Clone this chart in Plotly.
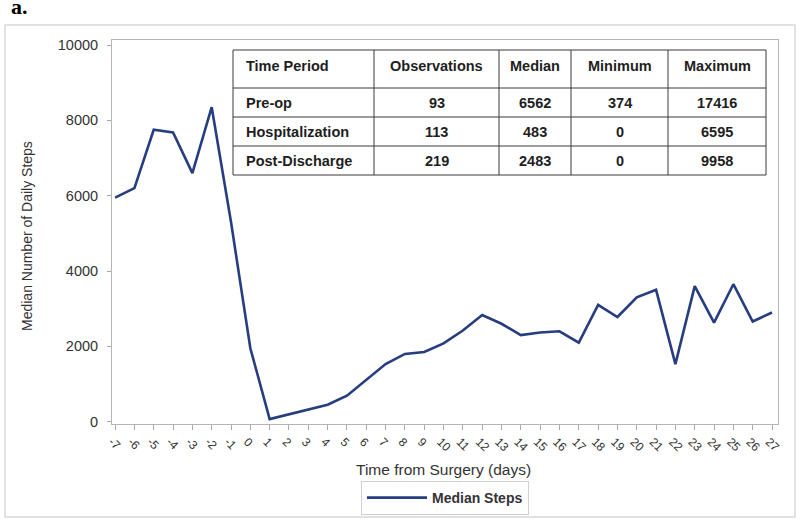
import plotly.graph_objects as go

# ---- data ----
days = list(range(-7, 28))
median_steps = [5950, 6200, 7750, 7680, 6600, 8350, 5300, 1950, 70, 200,
                320, 450, 690, 1100, 1530, 1800, 1850, 2080, 2420, 2830,
                2600, 2300, 2370, 2400, 2100, 3100, 2780, 3300, 3500, 1530,
                3600, 2630, 3650, 2660, 2900]
x_tick_labels = [str(d) for d in days]
y_tick_vals = [0, 2000, 4000, 6000, 8000, 10000]
y_tick_labels = ["0", "2000", "4000", "6000", "8000", "10000"]

table_header = ["Time Period", "Observations", "Median", "Minimum", "Maximum"]
periods = ["Pre-op", "Hospitalization", "Post-Discharge"]
observations = [93, 113, 219]
medians = [6562, 483, 2483]
minimums = [374, 0, 0]
maximums = [17416, 6595, 9958]

W, H = 800, 522
FONT = "Liberation Sans, Arial, sans-serif"
TXT = "#333333"


def px_x(p):
    return p / W


def px_y(p):
    return 1 - p / H


fig = go.Figure()

fig.add_trace(go.Scatter(
    x=days, y=median_steps, mode="lines", name="Median Steps",
    line=dict(color="#263d7f", width=2.6),
))

# ---- summary table (layout in pixels, content from the data lists) ----
col_widths = [141, 125, 72, 97, 98]
row_heights = [38, 29, 29, 29]
tbl_left, tbl_top = 233, 50
col_edges = [tbl_left]
for w in col_widths:
    col_edges.append(col_edges[-1] + w)
row_edges = [tbl_top]
for h in row_heights:
    row_edges.append(row_edges[-1] + h)

table_rows = [table_header]
for i in range(len(periods)):
    table_rows.append([periods[i], str(observations[i]), str(medians[i]),
                       str(minimums[i]), str(maximums[i])])

line_style = dict(color="#3a3a3a", width=1)
fig.add_shape(type="rect", xref="paper", yref="paper",
              x0=px_x(col_edges[0]), x1=px_x(col_edges[-1]),
              y0=px_y(row_edges[-1]), y1=px_y(row_edges[0]),
              line=line_style, fillcolor="white", layer="above")
for cx in col_edges[1:-1]:
    fig.add_shape(type="line", xref="paper", yref="paper",
                  x0=px_x(cx), x1=px_x(cx),
                  y0=px_y(row_edges[-1]), y1=px_y(row_edges[0]),
                  line=line_style)
for ry in row_edges[1:-1]:
    fig.add_shape(type="line", xref="paper", yref="paper",
                  x0=px_x(col_edges[0]), x1=px_x(col_edges[-1]),
                  y0=px_y(ry), y1=px_y(ry), line=line_style)

for r, row in enumerate(table_rows):
    yc = (row_edges[r] + row_edges[r + 1]) / 2 - (3 if r == 0 else 0)
    for c, val in enumerate(row):
        if c == 0:
            xpos, xa = col_edges[0] + 11, "left"
        else:
            xpos, xa = (col_edges[c] + col_edges[c + 1]) / 2, "center"
        fig.add_annotation(text="<b>%s</b>" % val, xref="paper", yref="paper",
                           x=px_x(xpos), xanchor=xa, y=px_y(yc), yanchor="middle",
                           showarrow=False,
                           font=dict(family=FONT, size=14.5, color="#1e1e1e"))

fig.update_layout(
    width=W, height=H,
    margin=dict(l=0, r=0, t=0, b=0),
    paper_bgcolor="white", plot_bgcolor="white",
    font=dict(family=FONT, color=TXT),
    xaxis=dict(
        domain=[px_x(112), px_x(778)],
        range=[-7.16, 27.31],
        tickvals=days, ticktext=x_tick_labels,
        tickangle=45, ticklabelshift=-3,
        tickfont=dict(size=12, color=TXT),
        ticks="outside", ticklen=5, tickcolor="#a8a8a8",
        showline=True, linecolor="#b4b4b4", linewidth=1, mirror=True,
        showgrid=False, zeroline=False, automargin=False,
    ),
    yaxis=dict(
        domain=[px_y(424), px_y(40)],
        range=[-61, 10133],
        tickvals=y_tick_vals, ticktext=y_tick_labels,
        tickfont=dict(size=14.5, color=TXT),
        ticks="outside", ticklen=4, tickcolor="#a8a8a8",
        ticklabelstandoff=6,
        showline=True, linecolor="#b4b4b4", linewidth=1, mirror=True,
        showgrid=False, zeroline=False, automargin=False,
    ),
    showlegend=True,
    legend=dict(
        orientation="h", x=px_x(445), xanchor="center",
        y=px_y(481), yanchor="top",
        bordercolor="#d0d0d0", borderwidth=1, itemwidth=60,
        font=dict(size=14, color=TXT, weight="bold"),
    ),
)

# axis titles
fig.add_annotation(text="Median Number of Daily Steps", xref="paper", yref="paper",
                   x=px_x(27), xanchor="center", y=px_y(236), yanchor="middle",
                   textangle=-90, showarrow=False,
                   font=dict(size=14, color=TXT))
fig.add_annotation(text="Time from Surgery (days)", xref="paper", yref="paper",
                   x=px_x(443), xanchor="center", y=px_y(469), yanchor="middle",
                   showarrow=False, font=dict(size=15.5, color=TXT))
# panel label
fig.add_annotation(text="<b>a.</b>", xref="paper", yref="paper",
                   x=px_x(9), xanchor="left", y=px_y(21), yanchor="bottom",
                   showarrow=False,
                   font=dict(family="Liberation Serif, Times New Roman, serif",
                             size=22, color="black"))
# outer frame
fig.add_shape(type="rect", xref="paper", yref="paper",
              x0=px_x(5), x1=px_x(795), y0=px_y(517), y1=px_y(25),
              line=dict(color="#d8d8d8", width=1.5), layer="below")

fig.write_html("out.html",
               config={"displayModeBar": False},
               post_script="document.body.style.margin='0';"
                           "document.documentElement.style.margin='0';")
